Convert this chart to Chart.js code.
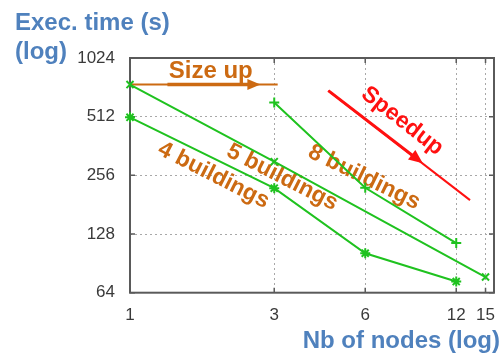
<!DOCTYPE html>
<html>
<head>
<meta charset="utf-8">
<script src="https://cdn.jsdelivr.net/npm/chart.js@4/dist/chart.umd.min.js"></script>
<style>
  html, body { margin: 0; padding: 0; background: #fff; }
  #wrap { width: 501px; height: 355px; }
</style>
</head>
<body>
<div id="wrap"><canvas id="c" width="501" height="355"></canvas></div>
<script>
// Axis tick values (both axes are log scale)
const xTicks = [1, 3, 6, 12, 15];
const yTicks = [64, 128, 256, 512, 1024];

// Execution time (s) against number of nodes
const nodes4 = [1, 3, 6, 12];
const time4  = [508, 220, 102, 73];
const nodes5 = [1, 3, 15];
const time5  = [748, 301, 77];
const nodes8 = [3, 6, 12];
const time8  = [605, 221, 115];

const GREEN = '#1fc21f';
const ORANGE = '#cc6a12';
const RED = '#ff1010';
const BLUE = '#4f81bd';
const FONT = "'Liberation Sans', Arial, Helvetica, sans-serif";

function pts(xs, ys) { return xs.map((x, i) => ({ x: x, y: ys[i] })); }

function series(label, xs, ys, style) {
  return {
    label: label,
    data: pts(xs, ys),
    borderColor: GREEN,
    backgroundColor: GREEN,
    borderWidth: 2,
    pointStyle: style,
    pointRadius: 5,
    pointHoverRadius: 5,
    pointBorderWidth: 2,
    tension: 0,
    clip: false
  };
}

// Annotations placed in data coordinates
const labels = [
  { text: '4 buildings', x: 1.89, y: 256, angle: 27, color: ORANGE },
  { text: '5 buildings', x: 3.19, y: 250, angle: 27, color: ORANGE },
  { text: '8 buildings', x: 5.95, y: 250, angle: 26, color: ORANGE },
  { text: 'Speedup',     x: 7.95, y: 486, angle: 38, color: RED }
];

function arrowHead(ctx, tx, ty, ux, uy, len, half, color) {
  const bx = tx - ux * len, by = ty - uy * len;
  ctx.beginPath();
  ctx.moveTo(tx, ty);
  ctx.lineTo(bx - uy * half, by + ux * half);
  ctx.lineTo(bx + uy * half, by - ux * half);
  ctx.closePath();
  ctx.fillStyle = color;
  ctx.fill();
}

const decor = {
  id: 'decor',
  beforeDatasetsDraw(chart) {
    const ctx = chart.ctx;
    const a = chart.chartArea;
    const sx = chart.scales.x, sy = chart.scales.y;
    ctx.save();

    // Frame with inward tick marks
    ctx.strokeStyle = '#5a5a5a';
    ctx.lineWidth = 2;
    ctx.strokeRect(a.left, a.top, a.right - a.left, a.bottom - a.top);
    ctx.lineWidth = 1.5;
    ctx.beginPath();
    xTicks.forEach(v => {
      const p = sx.getPixelForValue(v);
      ctx.moveTo(p, a.top); ctx.lineTo(p, a.top + 5);
      ctx.moveTo(p, a.bottom); ctx.lineTo(p, a.bottom - 5);
    });
    yTicks.forEach(v => {
      const p = sy.getPixelForValue(v);
      ctx.moveTo(a.left, p); ctx.lineTo(a.left + 5, p);
      ctx.moveTo(a.right, p); ctx.lineTo(a.right - 5, p);
    });
    ctx.stroke();

    // Size-up arrow
    const y0 = sy.getPixelForValue(748);
    const xa = sx.getPixelForValue(1), xb = sx.getPixelForValue(3.08);
    const xt = sx.getPixelForValue(2.7), xs = sx.getPixelForValue(1.33);
    ctx.strokeStyle = ORANGE;
    ctx.lineWidth = 2;
    ctx.beginPath(); ctx.moveTo(xa, y0); ctx.lineTo(xb, y0); ctx.stroke();
    ctx.lineWidth = 3.5;
    ctx.beginPath(); ctx.moveTo(xs, y0); ctx.lineTo(xt - 8, y0); ctx.stroke();
    arrowHead(ctx, xt, y0, 1, 0, 13, 5.5, ORANGE);

    ctx.font = 'bold 24px ' + FONT;
    ctx.fillStyle = ORANGE;
    ctx.textAlign = 'center';
    ctx.textBaseline = 'alphabetic';
    ctx.fillText('Size up', sx.getPixelForValue(1.85), sy.getPixelForValue(813));

    // Speedup arrow
    const p1x = sx.getPixelForValue(4.53), p1y = sy.getPixelForValue(696);
    const p2x = sx.getPixelForValue(13.33), p2y = sy.getPixelForValue(191);
    const ptx = sx.getPixelForValue(9.30), pty = sy.getPixelForValue(295);
    const dx = p2x - p1x, dy = p2y - p1y, dl = Math.hypot(dx, dy);
    const ux = dx / dl, uy = dy / dl;
    ctx.strokeStyle = RED;
    ctx.lineWidth = 2;
    ctx.beginPath(); ctx.moveTo(p1x, p1y); ctx.lineTo(p2x, p2y); ctx.stroke();
    ctx.lineWidth = 3;
    ctx.beginPath(); ctx.moveTo(p1x, p1y); ctx.lineTo(ptx - ux * 8, pty - uy * 8); ctx.stroke();
    arrowHead(ctx, ptx, pty, ux, uy, 14, 6, RED);

    // Rotated series labels
    ctx.font = 'bold 23px ' + FONT;
    ctx.textAlign = 'center';
    ctx.textBaseline = 'middle';
    labels.forEach(l => {
      ctx.save();
      ctx.translate(sx.getPixelForValue(l.x), sy.getPixelForValue(l.y));
      ctx.rotate(l.angle * Math.PI / 180);
      ctx.fillStyle = l.color;
      ctx.fillText(l.text, 0, 0);
      ctx.restore();
    });
    ctx.restore();
  },
  afterDraw(chart) {
    const ctx = chart.ctx;
    ctx.save();
    ctx.font = 'bold 24px ' + FONT;
    ctx.fillStyle = BLUE;
    ctx.textBaseline = 'alphabetic';
    ctx.textAlign = 'left';
    ctx.fillText('Exec. time (s)', 15, 30);
    ctx.fillText('(log)', 15, 59);
    ctx.textAlign = 'right';
    ctx.fillText('Nb of nodes (log)', 500, 348);
    ctx.restore();
  }
};

const tickFont = { family: FONT, size: 17 };

new Chart(document.getElementById('c'), {
  type: 'line',
  data: {
    datasets: [
      series('4 buildings', nodes4, time4, 'star'),
      series('5 buildings', nodes5, time5, 'crossRot'),
      series('8 buildings', nodes8, time8, 'cross')
    ]
  },
  options: {
    responsive: false,
    animation: false,
    devicePixelRatio: 1,
    layout: { padding: { top: 58, right: 4, left: 0, bottom: 0 } },
    plugins: { legend: { display: false }, tooltip: { enabled: false }, title: { display: false } },
    scales: {
      x: {
        type: 'logarithmic',
        min: 1, max: 16,
        afterBuildTicks: s => { s.ticks = xTicks.map(v => ({ value: v })); },
        afterFit: s => { s.height = 62.3; s.paddingLeft = 0; s.paddingRight = 0; },
        ticks: { callback: v => String(v), font: tickFont, color: '#3a3a3a', padding: 12, maxRotation: 0, autoSkip: false },
        grid: { color: '#a8a8a8', lineWidth: 1, drawTicks: false },
        border: { display: false, dash: [2, 3] }
      },
      y: {
        type: 'logarithmic',
        min: 64, max: 1024,
        afterBuildTicks: s => { s.ticks = yTicks.map(v => ({ value: v })); },
        afterFit: s => { s.width = 130; s.paddingTop = 0; s.paddingBottom = 0; },
        ticks: { callback: v => String(v), font: tickFont, color: '#3a3a3a', padding: 15, autoSkip: false },
        grid: { color: '#a8a8a8', lineWidth: 1, drawTicks: false },
        border: { display: false, dash: [2, 3] }
      }
    }
  },
  plugins: [decor]
});
</script>
</body>
</html>
